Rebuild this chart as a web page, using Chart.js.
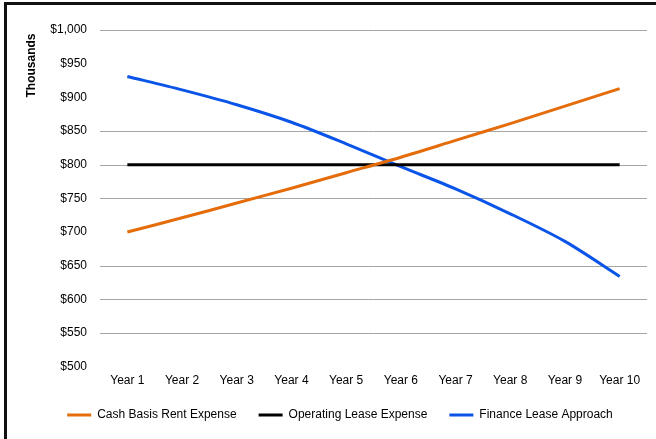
<!DOCTYPE html>
<html>
<head>
<meta charset="utf-8">
<script src="https://cdn.jsdelivr.net/npm/chart.js@4.4.1/dist/chart.umd.min.js"></script>
<style>
  html, body { margin: 0; padding: 0; background: #fff; }
  #wrap { width: 656px; height: 439px; position: relative; }
</style>
</head>
<body>
<div id="wrap"><canvas id="c" width="656" height="439"></canvas></div>
<script>
const categories = ['Year 1','Year 2','Year 3','Year 4','Year 5','Year 6','Year 7','Year 8','Year 9','Year 10'];
const cashBasisRent = [700, 721, 743, 765, 788, 811, 836, 861, 887, 913];
const operatingLease = [800, 800, 800, 800, 800, 800, 800, 800, 800, 800];
const financeLease = [931, 911, 889, 863, 831, 797, 764, 727, 686, 634];
const yTickValues = [500, 550, 600, 650, 700, 750, 800, 850, 900, 950, 1000];
const gridLineValues = [550, 600, 650, 750, 800, 850, 1000];
const seriesNames = ['Cash Basis Rent Expense', 'Operating Lease Expense', 'Finance Lease Approach'];
const seriesColors = ['#E46C0A', '#000000', '#0A55E8'];
const yTitle = 'Thousands';

const FONT = 'Arial, "Liberation Sans", sans-serif';

const framePlugin = {
  id: 'frame',
  beforeDraw(chart) {
    const ctx = chart.ctx;
    ctx.save();
    ctx.fillStyle = '#ffffff';
    ctx.fillRect(0, 0, chart.width, chart.height);
    ctx.fillStyle = '#111';
    ctx.fillRect(4, 2, 3, chart.height - 2);
    ctx.fillRect(4, 2, chart.width - 4, 3);
    ctx.restore();
  },
  beforeDatasetsDraw(chart) {
    const ctx = chart.ctx;
    const y = chart.scales.y;
    const area = chart.chartArea;
    ctx.save();
    ctx.strokeStyle = '#A6A6A6';
    ctx.lineWidth = 1;
    gridLineValues.forEach(v => {
      const py = Math.round(y.getPixelForValue(v)) + 0.5;
      ctx.beginPath();
      ctx.moveTo(area.left, py);
      ctx.lineTo(area.right, py);
      ctx.stroke();
    });
    ctx.restore();
  },
  afterDraw(chart) {
    const ctx = chart.ctx;
    ctx.save();
    ctx.translate(31.5, 65.5);
    ctx.rotate(-Math.PI / 2);
    ctx.font = 'bold 12px ' + FONT;
    ctx.fillStyle = '#000';
    ctx.textAlign = 'center';
    ctx.textBaseline = 'middle';
    ctx.fillText(yTitle, 0, 0);
    ctx.restore();
  }
};

const data = {
  labels: categories,
  datasets: [
    { label: seriesNames[0], data: cashBasisRent },
    { label: seriesNames[1], data: operatingLease },
    { label: seriesNames[2], data: financeLease }
  ].map((d, i) => Object.assign(d, {
    borderColor: seriesColors[i],
    backgroundColor: seriesColors[i],
    borderWidth: 3,
    pointRadius: 0,
    pointHoverRadius: 0,
    tension: 0.3,
    fill: false
  }))
};

new Chart(document.getElementById('c'), {
  type: 'line',
  data,
  plugins: [framePlugin],
  options: {
    responsive: false,
    animation: false,
    devicePixelRatio: 1,
    layout: { padding: { left: 33, right: 9, top: 30, bottom: 8 } },
    plugins: {
      tooltip: { enabled: false },
      legend: {
        position: 'bottom',
        labels: {
          color: '#000',
          font: { family: FONT, size: 12 },
          boxWidth: 24,
          boxHeight: 3,
          padding: 22,
          generateLabels(chart) {
            return Chart.defaults.plugins.legend.labels.generateLabels(chart).map(l => Object.assign(l, { lineWidth: 0, fillStyle: l.strokeStyle }));
          }
        }
      }
    },
    scales: {
      x: {
        offset: true,
        afterFit(scale) { scale.height -= 8; },
        grid: { display: false, drawTicks: false },
        border: { display: false },
        ticks: { color: '#000', font: { family: FONT, size: 12 }, padding: 7, maxRotation: 0, autoSkip: false }
      },
      y: {
        min: 500,
        max: 1000,
        afterFit(scale) { scale.width = 67; },
        afterBuildTicks(scale) { scale.ticks = yTickValues.map(v => ({ value: v })); },
        grid: { display: false, drawTicks: false },
        border: { display: false },
        ticks: {
          color: '#000',
          font: { family: FONT, size: 12 },
          padding: 13,
          callback: (v) => '$' + Number(v).toLocaleString('en-US')
        }
      }
    }
  }
});
</script>
</body>
</html>
